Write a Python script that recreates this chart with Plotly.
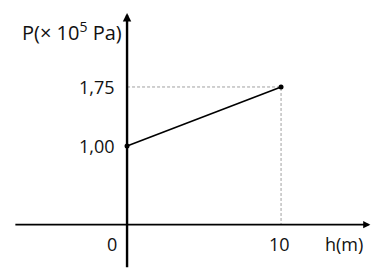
import plotly.graph_objects as go

# Data
h_values = [0, 10]
p_values = [1.00, 1.75]
y_tick_vals = [1.00, 1.75]
y_tick_text = ["1,00", "1,75"]
x_tick_vals = [0, 10]
x_tick_text = ["0", "10"]
x_title = "h(m)"
y_title = "P(× 10<sup>5</sup> Pa)"

W, H = 381, 279
x_range = [-8.25, 16.49]
y_range = [-0.69, 2.855]

fig = go.Figure()

# dashed guide lines
fig.add_trace(go.Scatter(
    x=[h_values[0], h_values[1], h_values[1]],
    y=[p_values[1], p_values[1], 0],
    mode="lines", line=dict(color="#a0a0a0", width=1, dash="3px,2px"),
    hoverinfo="skip", showlegend=False))

# main line
fig.add_trace(go.Scatter(
    x=h_values, y=p_values, mode="lines+markers",
    line=dict(color="black", width=1.6),
    marker=dict(color="black", size=5),
    showlegend=False))

font = dict(family="Open Sans, DejaVu Sans, sans-serif", size=18, color="#111")
font_title = dict(family="Open Sans, DejaVu Sans, sans-serif", size=20, color="#111")

ann = []
# axes arrows
ann.append(dict(x=15.8, y=0, ax=-7.35, ay=0, xref="x", yref="y", axref="x", ayref="y",
                text="", showarrow=True, arrowhead=2, arrowsize=0.8, arrowwidth=1.8, arrowcolor="black"))
ann.append(dict(x=0, y=2.69, ax=0, ay=-0.56, xref="x", yref="y", axref="x", ayref="y",
                text="", showarrow=True, arrowhead=2, arrowsize=0.7, arrowwidth=2.4, arrowcolor="black"))

for v, t in zip(y_tick_vals, y_tick_text):
    ann.append(dict(x=0, y=v, xref="x", yref="y", text=t, showarrow=False,
                    xanchor="right", yanchor="middle", xshift=-10, font=font))
ann.append(dict(x=0, y=0, xref="x", yref="y", text=x_tick_text[0], showarrow=False,
                xanchor="right", yanchor="middle", xshift=-8, yshift=-19, font=font))
ann.append(dict(x=x_tick_vals[1], y=0, xref="x", yref="y", text=x_tick_text[1], showarrow=False,
                xanchor="center", yanchor="middle", xshift=-2, yshift=-19, font=font))
ann.append(dict(x=14.1, y=0, xref="x", yref="y", text=x_title, showarrow=False,
                xanchor="center", yanchor="middle", yshift=-19, font=font))
ann.append(dict(x=0, y=2.45, xref="x", yref="y", text=y_title, showarrow=False,
                xanchor="right", yanchor="middle", xshift=-3, font=font_title))

fig.update_layout(
    width=W, height=H, margin=dict(l=0, r=0, t=0, b=0),
    paper_bgcolor="white", plot_bgcolor="white",
    xaxis=dict(range=x_range, visible=False, fixedrange=True),
    yaxis=dict(range=y_range, visible=False, fixedrange=True),
    annotations=ann,
)

fig.write_html("out.html")
